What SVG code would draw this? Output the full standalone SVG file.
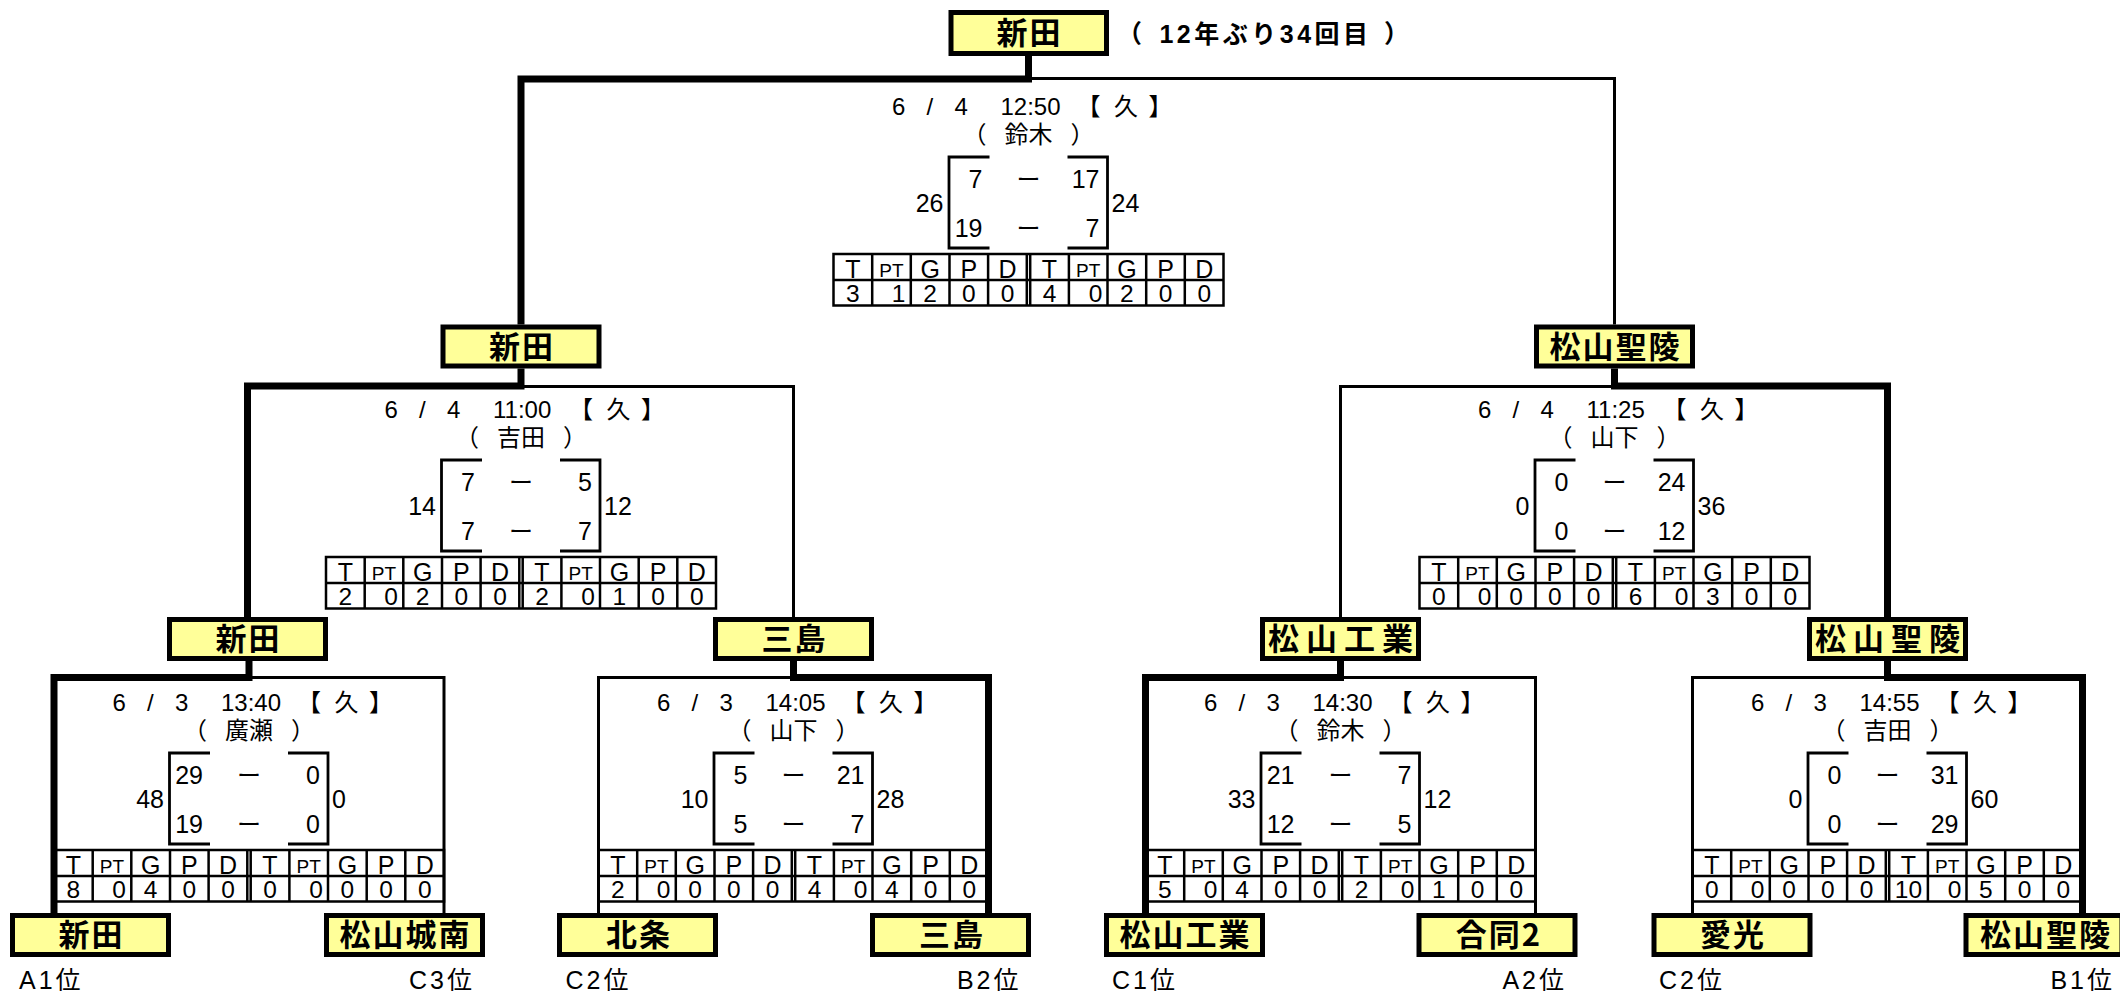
<svg xmlns="http://www.w3.org/2000/svg" xmlns:xlink="http://www.w3.org/1999/xlink" width="2120" height="992" viewBox="0 0 2120 992">
<style>
.box{fill:#FFFF99;stroke:#000;stroke-width:5}
.nm{font-family:"Noto Sans CJK JP","Noto Sans CJK SC",sans-serif;font-weight:bold;font-size:31px;text-anchor:middle;letter-spacing:2px;fill:#000}
.wide{letter-spacing:7px}
.thick{fill:none;stroke:#000;stroke-width:7;stroke-linejoin:miter}
.thin{fill:none;stroke:#000;stroke-width:3;stroke-linejoin:miter}
.br{fill:none;stroke:#000;stroke-width:2.8}
.grid{fill:none;stroke:#000;stroke-width:2.5}
.d{font-family:"Liberation Sans","Noto Sans CJK JP",sans-serif;font-size:24px;fill:#000}
.dc{font-family:"Noto Sans CJK JP","Noto Sans CJK SC",sans-serif;font-size:24px;text-anchor:middle;fill:#000}
.dr{font-family:"Noto Sans CJK JP","Noto Sans CJK SC",sans-serif;font-size:24px;fill:#000}
.s{font-family:"Liberation Sans",sans-serif;font-size:25px;fill:#000}
.se{font-family:"Liberation Sans",sans-serif;font-size:25px;text-anchor:end;fill:#000}
.hd{font-family:"Liberation Sans",sans-serif;font-size:25px;text-anchor:middle;fill:#000}
.pt{font-family:"Liberation Sans",sans-serif;font-size:19px;text-anchor:middle;fill:#000}
.v{font-family:"Liberation Sans",sans-serif;font-size:24.5px;text-anchor:middle;fill:#000}
.ve{font-family:"Liberation Sans",sans-serif;font-size:24.5px;text-anchor:end;fill:#000}
.lab{font-family:"Liberation Sans","Noto Sans CJK JP",sans-serif;font-size:25px;letter-spacing:3px;fill:#000}
.ann{font-family:"Liberation Sans","Noto Sans CJK JP",sans-serif;font-size:25px;font-weight:bold;fill:#000}
</style>
<defs>
<g id="tbl">
<rect class="grid" x="-195" y="97" width="390" height="51.5"/>
<path class="grid" d="M-195,123H195M-156.3,97V148.5M-117.7,97V148.5M-79,97V148.5M-40.4,97V148.5M-1.7,97V148.5M1.7,97V148.5M40.4,97V148.5M79,97V148.5M117.7,97V148.5M156.3,97V148.5"/>
<text class="hd" x="-175.7" y="120.5">T</text><text class="pt" x="-137" y="119.5">PT</text><text class="hd" x="-98.4" y="120.5">G</text><text class="hd" x="-59.7" y="120.5">P</text><text class="hd" x="-21" y="120.5">D</text>
<text class="hd" x="21" y="120.5">T</text><text class="pt" x="59.7" y="119.5">PT</text><text class="hd" x="98.4" y="120.5">G</text><text class="hd" x="137" y="120.5">P</text><text class="hd" x="175.7" y="120.5">D</text>
</g>
<path id="brk" class="br" d="M-39,0H-79.5V91H-39M39,0H79V91H39"/>
</defs>
<rect width="2120" height="992" fill="#fff"/>

<g id="connectors">
<path class="thick" d="M521,324.5V79H1028.5V56"/>
<path class="thin" d="M1028.5,78.5H1614.5V324.5"/>
<path class="thick" d="M247.5,617V386H521V368.5"/>
<path class="thin" d="M521,386.5H793.5V617"/>
<path class="thin" d="M1614.5,386.5H1340.5V617"/>
<path class="thick" d="M1614.5,368.5V386H1887.5V617"/>
<path class="thick" d="M54,913V677.5H249V661"/>
<path class="thin" d="M249,677.5H444V913"/>
<path class="thin" d="M793.5,677.5H598.5V913"/>
<path class="thick" d="M793.5,661V677.5H988.5V913"/>
<path class="thick" d="M1145.5,913V677.5H1340.5V661"/>
<path class="thin" d="M1340.5,677.5H1535.5V913"/>
<path class="thin" d="M1887.5,677.5H1692.5V913"/>
<path class="thick" d="M1887.5,661V677.5H2082.5V913"/>
</g>

<g id="node-champion"><rect class="box" x="951" y="12.5" width="155.5" height="41"/><text class="nm" x="1029.5" y="44">新田</text></g>
<g id="champion-note">
<text class="ann" x="1129.5" y="43" text-anchor="middle">（</text>
<text class="ann" x="1265.5" y="43" text-anchor="middle" letter-spacing="3.5">12年ぶり34回目</text>
<text class="ann" x="1396.5" y="43" text-anchor="middle">）</text>
</g>

<g id="node-r2-left"><rect class="box" x="443" y="327" width="156" height="39"/><text class="nm" x="522" y="357.5">新田</text></g>
<g id="node-r2-right"><rect class="box" x="1536.5" y="327" width="156" height="39"/><text class="nm" x="1615.5" y="357.5">松山聖陵</text></g>

<g id="node-r1-a"><rect class="box" x="169.5" y="619.5" width="156" height="39"/><text class="nm" x="248.5" y="650">新田</text></g>
<g id="node-r1-b"><rect class="box" x="715.5" y="619.5" width="156" height="39"/><text class="nm" x="794.5" y="650">三島</text></g>
<g id="node-r1-c"><rect class="box" x="1262.5" y="619.5" width="156" height="39"/><text class="nm wide" x="1344" y="650">松山工業</text></g>
<g id="node-r1-d"><rect class="box" x="1809.5" y="619.5" width="156" height="39"/><text class="nm wide" x="1891" y="650">松山聖陵</text></g>

<g id="node-t1"><rect class="box" x="12.5" y="915.5" width="156" height="39"/><text class="nm" x="91.5" y="946">新田</text><text class="lab" x="19" y="989">A1位</text></g>
<g id="node-t2"><rect class="box" x="326.5" y="915.5" width="156" height="39"/><text class="nm" x="405.5" y="946">松山城南</text><text class="lab" x="475" y="989" text-anchor="end">C3位</text></g>
<g id="node-t3"><rect class="box" x="559.5" y="915.5" width="156" height="39"/><text class="nm" x="639" y="946">北条</text><text class="lab" x="565.5" y="989">C2位</text></g>
<g id="node-t4"><rect class="box" x="872.5" y="915.5" width="156" height="39"/><text class="nm" x="952" y="946">三島</text><text class="lab" x="1021.5" y="989" text-anchor="end">B2位</text></g>
<g id="node-t5"><rect class="box" x="1106.5" y="915.5" width="156" height="39"/><text class="nm" x="1185.5" y="946">松山工業</text><text class="lab" x="1112" y="989">C1位</text></g>
<g id="node-t6"><rect class="box" x="1419" y="915.5" width="156" height="39"/><text class="nm" x="1499" y="946">合同2</text><text class="lab" x="1567" y="989" text-anchor="end">A2位</text></g>
<g id="node-t7"><rect class="box" x="1654" y="915.5" width="156" height="39"/><text class="nm" x="1733" y="946">愛光</text><text class="lab" x="1659" y="989">C2位</text></g>
<g id="node-t8"><rect class="box" x="1966" y="915.5" width="156" height="39"/><text class="nm" x="2046" y="946">松山聖陵</text><text class="lab" x="2115" y="989" text-anchor="end">B1位</text></g>

<g id="match-final" transform="translate(1028.5,157)">
<text class="d" x="-136.5" y="-42">6</text><text class="d" x="-102" y="-42">/</text><text class="d" x="-74" y="-42">4</text><text class="d" x="-28" y="-42">12:50</text>
<text class="dc" x="60" y="-42">【</text><text class="dc" x="97.5" y="-42">久</text><text class="dc" x="132" y="-42">】</text>
<text class="dr" x="-66" y="-14">（<tspan dx="18">鈴木</tspan><tspan dx="18">）</tspan></text>
<use href="#brk"/>
<text class="se" x="-46" y="31">7</text><text class="dc" x="0" y="31">ー</text><text class="se" x="71" y="31">17</text>
<text class="se" x="-85" y="55">26</text><text class="s" x="83" y="55">24</text>
<text class="se" x="-46" y="80">19</text><text class="dc" x="0" y="80">ー</text><text class="se" x="71" y="80">7</text>
<use href="#tbl"/>
<text class="v" x="-175.7" y="145">3</text><text class="ve" x="-123" y="145">1</text><text class="v" x="-98.4" y="145">2</text><text class="v" x="-59.7" y="145">0</text><text class="v" x="-21" y="145">0</text>
<text class="v" x="21" y="145">4</text><text class="ve" x="74" y="145">0</text><text class="v" x="98.4" y="145">2</text><text class="v" x="137" y="145">0</text><text class="v" x="175.7" y="145">0</text>
</g>

<g id="match-r2-left" transform="translate(521,460)">
<text class="d" x="-136.5" y="-42">6</text><text class="d" x="-102" y="-42">/</text><text class="d" x="-74" y="-42">4</text><text class="d" x="-28" y="-42">11:00</text>
<text class="dc" x="60" y="-42">【</text><text class="dc" x="97.5" y="-42">久</text><text class="dc" x="132" y="-42">】</text>
<text class="dr" x="-66" y="-14">（<tspan dx="18">吉田</tspan><tspan dx="18">）</tspan></text>
<use href="#brk"/>
<text class="se" x="-46" y="31">7</text><text class="dc" x="0" y="31">ー</text><text class="se" x="71" y="31">5</text>
<text class="se" x="-85" y="55">14</text><text class="s" x="83" y="55">12</text>
<text class="se" x="-46" y="80">7</text><text class="dc" x="0" y="80">ー</text><text class="se" x="71" y="80">7</text>
<use href="#tbl"/>
<text class="v" x="-175.7" y="145">2</text><text class="ve" x="-123" y="145">0</text><text class="v" x="-98.4" y="145">2</text><text class="v" x="-59.7" y="145">0</text><text class="v" x="-21" y="145">0</text>
<text class="v" x="21" y="145">2</text><text class="ve" x="74" y="145">0</text><text class="v" x="98.4" y="145">1</text><text class="v" x="137" y="145">0</text><text class="v" x="175.7" y="145">0</text>
</g>

<g id="match-r2-right" transform="translate(1614.5,460)">
<text class="d" x="-136.5" y="-42">6</text><text class="d" x="-102" y="-42">/</text><text class="d" x="-74" y="-42">4</text><text class="d" x="-28" y="-42">11:25</text>
<text class="dc" x="60" y="-42">【</text><text class="dc" x="97.5" y="-42">久</text><text class="dc" x="132" y="-42">】</text>
<text class="dr" x="-66" y="-14">（<tspan dx="18">山下</tspan><tspan dx="18">）</tspan></text>
<use href="#brk"/>
<text class="se" x="-46" y="31">0</text><text class="dc" x="0" y="31">ー</text><text class="se" x="71" y="31">24</text>
<text class="se" x="-85" y="55">0</text><text class="s" x="83" y="55">36</text>
<text class="se" x="-46" y="80">0</text><text class="dc" x="0" y="80">ー</text><text class="se" x="71" y="80">12</text>
<use href="#tbl"/>
<text class="v" x="-175.7" y="145">0</text><text class="ve" x="-123" y="145">0</text><text class="v" x="-98.4" y="145">0</text><text class="v" x="-59.7" y="145">0</text><text class="v" x="-21" y="145">0</text>
<text class="v" x="21" y="145">6</text><text class="ve" x="74" y="145">0</text><text class="v" x="98.4" y="145">3</text><text class="v" x="137" y="145">0</text><text class="v" x="175.7" y="145">0</text>
</g>

<g id="match-r1-1" transform="translate(249,753)">
<text class="d" x="-136.5" y="-42">6</text><text class="d" x="-102" y="-42">/</text><text class="d" x="-74" y="-42">3</text><text class="d" x="-28" y="-42">13:40</text>
<text class="dc" x="60" y="-42">【</text><text class="dc" x="97.5" y="-42">久</text><text class="dc" x="132" y="-42">】</text>
<text class="dr" x="-66" y="-14">（<tspan dx="18">廣瀬</tspan><tspan dx="18">）</tspan></text>
<use href="#brk"/>
<text class="se" x="-46" y="31">29</text><text class="dc" x="0" y="31">ー</text><text class="se" x="71" y="31">0</text>
<text class="se" x="-85" y="55">48</text><text class="s" x="83" y="55">0</text>
<text class="se" x="-46" y="80">19</text><text class="dc" x="0" y="80">ー</text><text class="se" x="71" y="80">0</text>
<use href="#tbl"/>
<text class="v" x="-175.7" y="145">8</text><text class="ve" x="-123" y="145">0</text><text class="v" x="-98.4" y="145">4</text><text class="v" x="-59.7" y="145">0</text><text class="v" x="-21" y="145">0</text>
<text class="v" x="21" y="145">0</text><text class="ve" x="74" y="145">0</text><text class="v" x="98.4" y="145">0</text><text class="v" x="137" y="145">0</text><text class="v" x="175.7" y="145">0</text>
</g>

<g id="match-r1-2" transform="translate(793.5,753)">
<text class="d" x="-136.5" y="-42">6</text><text class="d" x="-102" y="-42">/</text><text class="d" x="-74" y="-42">3</text><text class="d" x="-28" y="-42">14:05</text>
<text class="dc" x="60" y="-42">【</text><text class="dc" x="97.5" y="-42">久</text><text class="dc" x="132" y="-42">】</text>
<text class="dr" x="-66" y="-14">（<tspan dx="18">山下</tspan><tspan dx="18">）</tspan></text>
<use href="#brk"/>
<text class="se" x="-46" y="31">5</text><text class="dc" x="0" y="31">ー</text><text class="se" x="71" y="31">21</text>
<text class="se" x="-85" y="55">10</text><text class="s" x="83" y="55">28</text>
<text class="se" x="-46" y="80">5</text><text class="dc" x="0" y="80">ー</text><text class="se" x="71" y="80">7</text>
<use href="#tbl"/>
<text class="v" x="-175.7" y="145">2</text><text class="ve" x="-123" y="145">0</text><text class="v" x="-98.4" y="145">0</text><text class="v" x="-59.7" y="145">0</text><text class="v" x="-21" y="145">0</text>
<text class="v" x="21" y="145">4</text><text class="ve" x="74" y="145">0</text><text class="v" x="98.4" y="145">4</text><text class="v" x="137" y="145">0</text><text class="v" x="175.7" y="145">0</text>
</g>

<g id="match-r1-3" transform="translate(1340.5,753)">
<text class="d" x="-136.5" y="-42">6</text><text class="d" x="-102" y="-42">/</text><text class="d" x="-74" y="-42">3</text><text class="d" x="-28" y="-42">14:30</text>
<text class="dc" x="60" y="-42">【</text><text class="dc" x="97.5" y="-42">久</text><text class="dc" x="132" y="-42">】</text>
<text class="dr" x="-66" y="-14">（<tspan dx="18">鈴木</tspan><tspan dx="18">）</tspan></text>
<use href="#brk"/>
<text class="se" x="-46" y="31">21</text><text class="dc" x="0" y="31">ー</text><text class="se" x="71" y="31">7</text>
<text class="se" x="-85" y="55">33</text><text class="s" x="83" y="55">12</text>
<text class="se" x="-46" y="80">12</text><text class="dc" x="0" y="80">ー</text><text class="se" x="71" y="80">5</text>
<use href="#tbl"/>
<text class="v" x="-175.7" y="145">5</text><text class="ve" x="-123" y="145">0</text><text class="v" x="-98.4" y="145">4</text><text class="v" x="-59.7" y="145">0</text><text class="v" x="-21" y="145">0</text>
<text class="v" x="21" y="145">2</text><text class="ve" x="74" y="145">0</text><text class="v" x="98.4" y="145">1</text><text class="v" x="137" y="145">0</text><text class="v" x="175.7" y="145">0</text>
</g>

<g id="match-r1-4" transform="translate(1887.5,753)">
<text class="d" x="-136.5" y="-42">6</text><text class="d" x="-102" y="-42">/</text><text class="d" x="-74" y="-42">3</text><text class="d" x="-28" y="-42">14:55</text>
<text class="dc" x="60" y="-42">【</text><text class="dc" x="97.5" y="-42">久</text><text class="dc" x="132" y="-42">】</text>
<text class="dr" x="-66" y="-14">（<tspan dx="18">吉田</tspan><tspan dx="18">）</tspan></text>
<use href="#brk"/>
<text class="se" x="-46" y="31">0</text><text class="dc" x="0" y="31">ー</text><text class="se" x="71" y="31">31</text>
<text class="se" x="-85" y="55">0</text><text class="s" x="83" y="55">60</text>
<text class="se" x="-46" y="80">0</text><text class="dc" x="0" y="80">ー</text><text class="se" x="71" y="80">29</text>
<use href="#tbl"/>
<text class="v" x="-175.7" y="145">0</text><text class="ve" x="-123" y="145">0</text><text class="v" x="-98.4" y="145">0</text><text class="v" x="-59.7" y="145">0</text><text class="v" x="-21" y="145">0</text>
<text class="v" x="21" y="145">10</text><text class="ve" x="74" y="145">0</text><text class="v" x="98.4" y="145">5</text><text class="v" x="137" y="145">0</text><text class="v" x="175.7" y="145">0</text>
</g>
</svg>
